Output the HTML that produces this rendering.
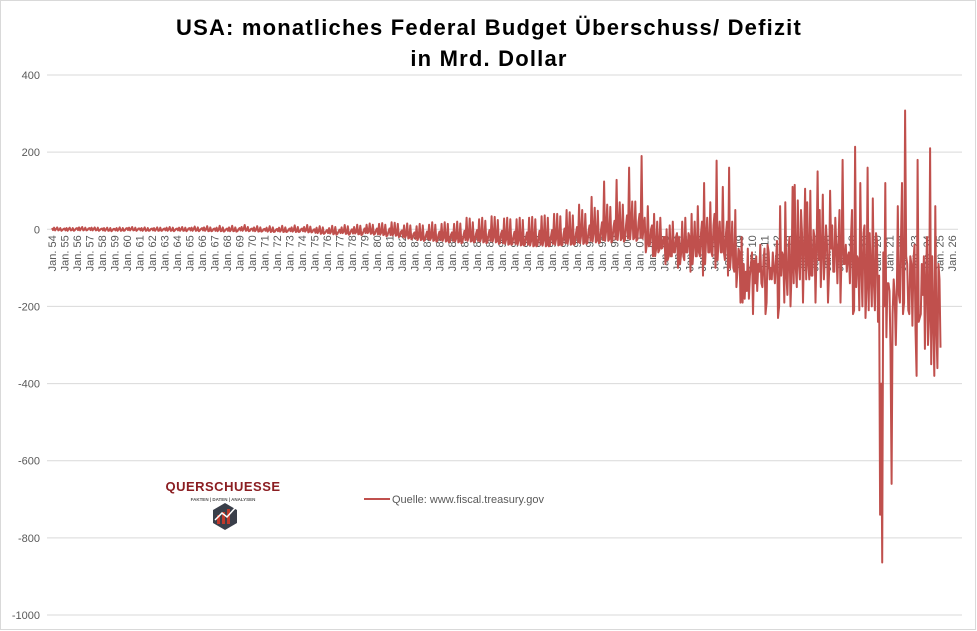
<!DOCTYPE html>
<html><head><meta charset="utf-8"><style>
body{margin:0;background:#fff;}
svg{display:block;font-family:"Liberation Sans",sans-serif;}
</style></head><body>
<svg id="chart" width="977" height="631" viewBox="0 0 977 631">
<rect x="0.5" y="0.5" width="975" height="629" fill="#fff" stroke="#d9d9d9"/>
<text x="489" y="35" text-anchor="middle" font-size="22" font-weight="bold" letter-spacing="1.2" fill="#000">USA: monatliches Federal Budget Überschuss/ Defizit</text>
<text x="489" y="66" text-anchor="middle" font-size="22" font-weight="bold" letter-spacing="1.2" fill="#000">in Mrd. Dollar</text>
<g id="grid"></g>
<g id="ylabels"></g>
<g id="xlabels"></g>
<polyline id="series" fill="none" stroke="#c0504d" stroke-width="2" stroke-linejoin="round"/>
<g>
<text x="223" y="491" text-anchor="middle" font-size="13" font-weight="bold" fill="#8b1e22" letter-spacing="0.5">QUERSCHUESSE</text>
<text x="223" y="501" text-anchor="middle" font-size="4.5" font-weight="bold" fill="#555">FAKTEN | DATEN | ANALYSEN</text>
<polygon points="225,503 237,510 237,523 225,530 213,523 213,510" fill="#3a3f4a"/>
<rect x="217" y="515" width="3" height="9" fill="#c0392b"/><rect x="222" y="512" width="3" height="12" fill="#c0392b"/><rect x="227" y="509" width="3" height="15" fill="#c0392b"/>
<polyline points="215,520 222,513 227,517 236,507" fill="none" stroke="#fff" stroke-width="1.5"/>
</g>
<g>
<line x1="364" y1="499" x2="390" y2="499" stroke="#c0504d" stroke-width="2"/>
<text x="392" y="503" font-size="11" fill="#595959">Quelle: www.fiscal.treasury.gov</text>
</g>
</svg>
<script>
const yTicks=[400,200,0,-200,-400,-600,-800,-1000];
const startYear=1954;
const endLabelYear=2026;
const values=[
3,-2,4,-3,1,5,-3,-1,3,-4,-2,1,
2,-3,3,-4,1,4,-3,-2,3,-4,-2,2,
3,-2,5,-3,2,6,-3,-1,4,-3,-2,2,
3,-2,4,-3,1,5,-3,-2,4,-4,-2,1,
2,-3,3,-4,0,4,-4,-3,3,-5,-3,1,
1,-3,3,-4,0,5,-4,-3,3,-4,-3,2,
3,-2,4,-3,1,6,-3,-2,4,-4,-2,2,
2,-3,3,-4,0,5,-4,-3,3,-4,-3,1,
2,-3,3,-4,0,5,-4,-3,4,-4,-3,1,
2,-3,4,-4,0,6,-4,-3,4,-5,-3,1,
2,-3,4,-4,0,6,-4,-3,4,-5,-3,2,
3,-3,4,-4,1,7,-4,-3,5,-5,-3,1,
3,-3,5,-4,0,8,-5,-4,5,-5,-4,1,
2,-4,4,-5,-1,9,-5,-4,5,-6,-4,0,
2,-4,5,-5,-1,9,-5,-4,5,-6,-5,0,
3,-3,6,-4,1,11,-4,-3,6,-5,-4,1,
2,-4,5,-5,-1,8,-6,-5,5,-6,-5,0,
1,-4,4,-6,-2,8,-7,-5,5,-7,-6,-1,
1,-5,4,-6,-2,9,-7,-6,5,-7,-6,-1,
2,-5,5,-6,-2,10,-7,-6,6,-7,-6,0,
2,-5,6,-6,-2,11,-8,-6,7,-8,-7,-1,
0,-9,4,-10,-5,8,-12,-10,5,-12,-10,-5,
-2,-10,3,-11,-6,9,-13,-11,6,-14,-12,-6,
-1,-10,5,-10,-6,11,-12,-11,8,-14,-12,-4,
0,-11,6,-11,-7,12,-13,-12,9,-15,-13,-5,
2,-10,12,-10,-6,15,-12,-10,12,-14,-12,-3,
2,-13,14,-14,-9,16,-15,-13,12,-18,-16,-6,
2,-15,18,-16,-10,17,-17,-15,14,-20,-18,-6,
-3,-20,10,-22,-15,15,-24,-22,10,-26,-24,-12,
-8,-25,8,-28,-20,14,-28,-26,10,-30,-28,-15,
-6,-26,12,-28,-22,18,-30,-28,12,-32,-30,-14,
-6,-28,14,-30,-22,18,-32,-30,14,-34,-32,-14,
-8,-30,14,-32,-24,20,-34,-32,15,-36,-34,-16,
-4,-28,30,-30,-20,28,-32,-30,18,-34,-32,-12,
-2,-30,26,-32,-22,30,-34,-32,22,-36,-34,-14,
-2,-30,34,-32,-20,32,-34,-32,24,-38,-36,-12,
-4,-36,28,-38,-26,30,-40,-38,26,-40,-38,-18,
-6,-38,26,-40,-28,30,-42,-40,24,-42,-40,-20,
-8,-40,30,-42,-30,32,-44,-42,26,-44,-42,-22,
-4,-40,34,-42,-28,36,-44,-42,30,-44,-42,-18,
-2,-38,40,-40,-24,40,-42,-40,34,-42,-40,-14,
2,-36,50,-38,-20,44,-40,-38,36,-40,-38,-10,
6,-34,64,-36,-14,50,-38,-34,40,-38,-36,-6,
10,-30,84,-32,-8,56,-34,-30,48,-36,-34,-2,
18,-28,124,-30,-2,64,-30,-26,58,-34,-30,6,
22,-26,128,-28,4,70,-28,-24,64,-32,-28,10,
36,-24,160,-26,10,72,-26,-22,72,-30,-26,18,
40,-22,190,-24,8,30,-60,-40,60,-44,-40,0,
10,-70,40,-70,-50,20,-60,-54,30,-50,-48,-20,
-20,-90,0,-80,-70,10,-70,-70,20,-60,-60,-20,
-10,-100,-20,-90,-60,20,-70,-80,30,-60,-60,-10,
-20,-110,40,-90,-40,20,-70,-70,60,-60,-70,-10,
20,-120,120,-90,-20,30,-60,-60,70,-60,-70,10,
40,-100,178,-80,-20,20,-60,-60,110,-60,-80,-10,
20,-120,160,-100,-60,20,-100,-110,50,-150,-110,-50,
-60,-190,-20,-190,-90,-180,-110,-160,-50,-180,-120,-90,
-60,-220,-80,-140,-70,-160,-90,-110,-40,-140,-150,-80,
-50,-220,-190,-40,-60,-130,-100,-130,-60,-100,-140,-80,
-30,-230,-200,60,-120,-60,-70,-190,70,-120,-170,-50,
-20,-200,-110,110,-140,115,-100,-150,75,-90,-130,50,
-10,-190,-40,105,-130,70,-90,-130,100,-120,-120,-2,
-20,-190,-50,150,-80,50,-150,-60,90,-130,-70,10,
-40,-190,-110,100,-50,10,-110,-110,30,-50,-140,-30,
50,-190,-60,180,-90,-90,-40,-110,-70,-60,-140,-20,
50,-220,-210,214,-150,-70,-80,-210,120,-100,-200,-10,
10,-230,-150,160,-210,-10,-120,-200,80,-140,-210,-10,
-30,-240,-120,-740,-400,-864,-60,-200,120,-280,-140,-140,
-160,-310,-660,-220,-130,-170,-300,-170,60,-170,-190,-20,
120,-220,-190,308,-70,-90,-210,-220,-70,-90,-250,-80,
-40,-260,-380,180,-240,-230,-220,-90,-170,-70,-310,-130,
-20,-300,-230,210,-350,-70,-240,-380,60,-260,-360,-90,
-130,-307
];
const NS="http://www.w3.org/2000/svg";
const yScale=v=>75+(400-v)*540/1400;
const x0=52, pxPerYear=12.5;
const xScale=i=>x0+i*pxPerYear/12;
const grid=document.getElementById('grid'), yl=document.getElementById('ylabels'), xl=document.getElementById('xlabels');
yTicks.forEach(t=>{
  if(t!==0){
    const l=document.createElementNS(NS,'line');
    l.setAttribute('x1',47);l.setAttribute('x2',962);
    l.setAttribute('y1',yScale(t));l.setAttribute('y2',yScale(t));
    l.setAttribute('stroke','#d9d9d9');l.setAttribute('stroke-width','1');
    
    
    grid.appendChild(l);
  }
  const tx=document.createElementNS(NS,'text');
  tx.setAttribute('x',40);tx.setAttribute('y',yScale(t)+4);
  tx.setAttribute('text-anchor','end');tx.setAttribute('font-size','11');tx.setAttribute('fill','#595959');
  tx.textContent=t;
  
  
  yl.appendChild(tx);
});
const ax=document.createElementNS(NS,'line');
ax.setAttribute('x1',47);ax.setAttribute('x2',958);ax.setAttribute('y1',yScale(0));ax.setAttribute('y2',yScale(0));
ax.setAttribute('stroke','#d9d9d9');


grid.appendChild(ax);
for(let y=startYear;y<=endLabelYear;y++){
  const x=x0+(y-startYear)*pxPerYear;
  const tx=document.createElementNS(NS,'text');
  tx.setAttribute('transform','translate('+(x+4)+','+(yScale(0)+6)+') rotate(-90)');
  tx.setAttribute('text-anchor','end');tx.setAttribute('font-size','11');tx.setAttribute('fill','#595959');
  tx.textContent='Jan. '+String(y%100).padStart(2,'0');
  
  
  xl.appendChild(tx);
}
document.getElementById('series').setAttribute('points',values.map((v,i)=>xScale(i).toFixed(1)+','+yScale(v).toFixed(1)).join(' '));
</script>
</body></html>
